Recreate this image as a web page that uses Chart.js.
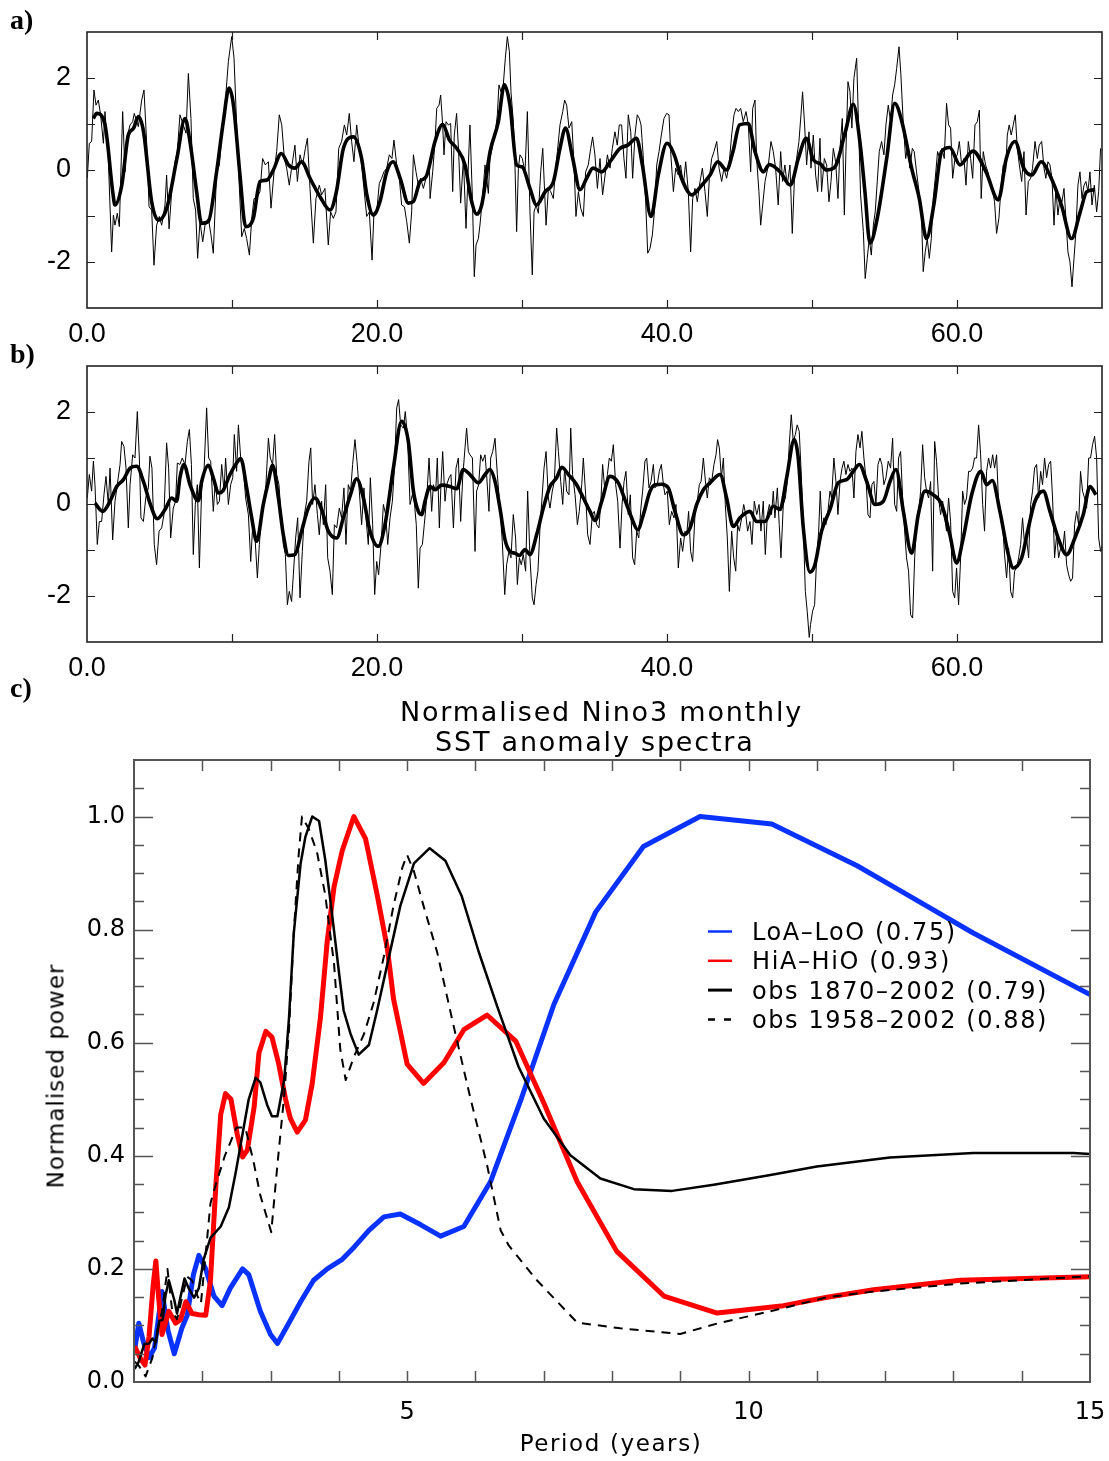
<!DOCTYPE html>
<html>
<head>
<meta charset="utf-8">
<title>Nino3 SST anomalies and spectra</title>
<script src="https://cdn.jsdelivr.net/npm/chart.js@4.4.1/dist/chart.umd.min.js"></script>
<style>
  body { margin: 0; background: #fff; }
  #page { position: relative; width: 1109px; height: 1461px; overflow: hidden; background: #fff; }
  canvas { position: absolute; left: 0; }
  .tag { position: absolute; left: 10px; font: bold 28px "Liberation Serif", serif; line-height: 28px; }
  .spec { position: absolute; font-family: "DejaVu Sans", sans-serif; white-space: pre; color: #000; }
  .ttl { font-size: 27px; line-height: 30px; letter-spacing: 1.8px; }
  .axt { font-size: 23px; line-height: 23px; letter-spacing: 1.6px; }
</style>
</head>
<body>
<div id="page">
  <canvas id="chartA" width="1109" height="345" style="top:0px"></canvas>
  <canvas id="chartB" width="1109" height="345" style="top:334px"></canvas>
  <canvas id="chartC" width="1109" height="781" style="top:680px"></canvas>
  <div class="tag" style="top:6px">a)</div>
  <div class="tag" style="top:340px">b)</div>
  <div class="tag" style="top:674px">c)</div>
  <div class="spec ttl" style="left:400px; top:697px">Normalised Nino3 monthly</div>
  <div class="spec ttl" style="left:435px; top:727px">SST anomaly spectra</div>
  <div class="spec axt" style="left:411px; width:400px; text-align:center; top:1432px">Period (years)</div>
  <div class="spec axt" style="left:56px; top:1076px; letter-spacing:1px; transform:translate(-50%,-50%) rotate(-90deg)">Normalised power</div>
</div>
<script>
'use strict';

// panel a) monthly anomaly (thin) and smoothed (thick), years from start
const aYears = [
  0.02,0.16,0.32,0.48,0.62,0.78,0.94,1.13,1.24,1.47,
  1.70,1.82,1.93,2.09,2.23,2.46,2.62,2.74,2.97,3.15,
  3.26,3.54,3.77,3.93,4.11,4.28,4.46,4.62,4.80,4.99,
  5.15,5.38,5.49,5.66,5.84,6.07,6.23,6.41,6.64,6.83,
  6.99,7.17,7.33,7.49,7.63,7.79,7.98,8.14,8.37,8.55,
  8.71,8.94,9.13,9.29,9.52,9.75,9.98,10.14,10.32,10.51,
  10.67,10.85,11.01,11.2,11.36,11.52,11.70,11.93,12.11,12.30,
  12.51,12.69,12.9,13.08,13.26,13.43,13.61,13.77,13.95,14.14,
  14.34,14.51,14.69,14.87,15.06,15.2,15.38,15.61,15.79,16.02,
  16.18,16.41,16.64,16.8,16.99,17.17,17.36,17.56,17.75,17.91,
  18.09,18.25,18.41,18.6,18.78,18.94,19.10,19.29,19.47,19.66,
  19.79,19.98,20.16,20.32,20.48,20.67,20.85,21.03,21.17,21.36,
  21.54,21.70,21.89,22.05,22.23,22.39,22.51,22.69,22.85,23.01,
  23.2,23.43,23.61,23.66,23.84,24.0,24.12,24.28,24.39,24.53,
  24.62,24.76,24.92,25.08,25.22,25.33,25.49,25.63,25.77,25.96,
  26.14,26.3,26.41,26.58,26.71,26.83,26.99,27.1,27.27,27.45,
  27.56,27.68,27.79,27.98,28.14,28.3,28.41,28.55,28.71,28.85,
  28.99,29.13,29.24,29.4,29.52,29.63,29.75,29.86,30.02,30.21,
  30.37,30.55,30.71,30.83,30.97,31.13,31.29,31.43,31.54,31.66,
  31.82,31.98,32.16,32.32,32.44,32.62,32.81,32.94,33.08,33.24,
  33.43,33.59,33.72,33.89,34.05,34.23,34.39,34.57,34.74,34.87,
  35.03,35.2,35.38,35.56,35.73,35.89,36.07,36.23,36.41,36.57,
  36.71,36.87,37.03,37.17,37.33,37.5,37.63,37.79,37.95,38.09,
  38.21,38.37,38.53,38.67,38.83,38.99,39.13,39.29,39.45,39.61,
  39.79,39.98,40.14,40.25,40.44,40.6,40.78,40.94,41.13,41.29,
  41.47,41.63,41.77,41.93,42.09,42.28,42.44,42.62,42.78,42.92,
  43.08,43.24,43.43,43.59,43.77,43.93,44.11,44.28,44.46,44.62,
  44.76,44.92,45.08,45.26,45.45,45.61,45.77,45.91,46.07,46.18,
  46.34,46.46,46.6,46.76,46.99,47.17,47.33,47.49,47.67,47.84,
  47.97,48.13,48.29,48.48,48.64,48.8,48.94,49.1,49.24,49.35,
  49.49,49.63,49.79,49.93,50.09,50.25,50.39,50.55,50.66,50.85,
  51.01,51.17,51.31,51.47,51.63,51.79,51.93,52.09,52.23,52.34,
  52.48,52.62,52.75,52.89,53.08,53.21,53.35,53.54,53.67,53.81,
  53.95,54.09,54.23,54.36,54.5,54.64,54.8,54.96,55.1,55.26,
  55.42,55.56,55.7,55.84,56.0,56.13,56.3,56.46,56.62,56.75,
  56.92,57.05,57.21,57.38,57.54,57.67,57.81,57.95,58.09,58.23,
  58.36,58.5,58.66,58.82,58.96,59.12,59.28,59.42,59.56,59.7,
  59.86,60.02,60.16,60.32,60.48,60.62,60.78,60.94,61.08,61.24,
  61.4,61.54,61.67,61.81,61.97,62.13,62.27,62.43,62.59,62.73,
  62.89,63.05,63.19,63.35,63.47,63.6,63.74,63.88,64.02,64.16,
  64.3,64.46,64.62,64.76,64.92,65.08,65.21,65.38,65.54,65.67,
  65.84,66.0,66.13,66.27,66.41,66.55,66.69,66.82,66.96,67.1,
  67.24,67.38,67.51,67.65,67.79,67.93,68.07,68.2,68.34,68.48,
  68.62,68.76,68.89,69.03,69.17,69.31,69.47,69.63,69.77,69.9
];
const aAnom = [
  -0.18,0.58,0.62,1.74,1.41,1.52,1.2,0.58,1.27,0.25,
  -1.78,-0.98,-1.2,-0.94,-1.23,1.27,-0.04,0.69,0.98,1.05,
  1.23,0.94,1.52,1.74,0.62,-0.8,-0.87,-2.07,-1.2,-1.01,
  -1.2,-0.76,-0.11,-1.28,-0.47,0.18,0.4,1.2,0.98,0.8,
  2.1,1.12,-0.62,-0.87,-1.92,-1.12,-1.56,-1.2,-1.05,-1.41,
  -1.81,-0.04,0.11,0.76,1.41,2.36,2.9,2.43,0.98,-0.4,
  -1.45,-1.27,-1.49,-1.85,-1.05,-0.62,-0.62,-0.47,0.25,0.11,
  0.18,-0.83,-0.04,0.4,1.2,0.98,0.25,0.04,-0.33,0.11,
  0.54,-0.25,0.33,0.11,0.47,0.69,-0.4,-1.59,-0.62,-0.33,
  -0.54,-0.4,-1.63,-0.91,-1.05,-0.91,0.47,0.62,0.98,0.76,
  1.23,0.62,0.18,0.98,0.47,0.11,-0.4,-1.01,-0.91,-1.96,
  -0.91,-0.91,-0.29,-0.18,-0.04,0.04,0.33,0.25,0.65,0.11,
  -0.18,-0.76,-0.8,-1.12,-1.59,-0.91,0.33,-0.04,-0.33,-0.18,
  -0.4,-0.11,0.14,-0.62,-0.04,0.62,1.34,1.41,1.63,0.98,
  0.33,1.05,0.98,1.01,-0.47,0.76,1.23,0.40,-0.72,0.25,
  -1.27,0.11,0.98,-0.62,-2.32,-1.63,-1.49,-1.2,-0.62,0.11,
  -0.18,-0.51,0.25,0.54,0.76,1.2,1.85,1.7,1.85,2.43,
  2.9,2.57,1.7,1.05,0.04,-1.34,0.04,0.33,0.25,-0.04,
  1.27,-0.91,-2.28,-0.91,-0.76,-0.94,-0.04,0.47,-0.33,-1.2,
  -0.4,-0.47,-0.62,0.04,0.40,0.98,1.27,1.52,1.41,0.91,
  1.05,0.11,-1.01,-0.47,-0.83,-1.01,-0.04,0.11,0.47,0.72,
  0.33,-0.4,0.25,-0.54,-0.11,0.33,0.04,0.47,0.83,0.54,
  0.98,0.98,0.25,-0.18,1.2,0.83,-0.18,0.76,1.2,1.12,
  0.98,0.25,-0.69,-1.81,-1.70,-1.41,-0.91,0.11,0.40,0.76,
  1.12,1.23,1.2,0.40,-0.47,0.04,-0.11,0.11,-0.33,0.18,
  -0.47,-1.78,-0.62,-0.40,-0.69,-0.25,0.04,-0.47,-1.01,-0.18,
  0.25,0.40,0.62,0.04,-0.25,0.04,-0.18,0.11,0.76,1.2,
  1.34,1.27,1.34,1.05,1.27,0.98,-0.04,1.34,1.52,0.25,
  -0.47,-1.2,-0.76,-0.25,0.11,0.62,0.40,0.04,-0.76,0.40,
  -0.25,0.11,-0.33,0.11,-1.38,-0.11,0.25,0.62,1.20,1.70,
  0.98,0.11,0.83,0.04,0.76,-0.11,-0.47,0.69,-0.47,0.25,
  0.11,-0.69,-0.25,0.47,0.18,-0.62,0.47,1.12,-0.98,0.40,
  1.92,1.70,0.91,1.99,2.43,0.98,-0.54,-1.34,-2.36,-1.92,
  -1.49,-1.85,-1.2,-0.91,-0.25,0.40,0.62,0.33,0.98,1.41,
  1.05,1.63,1.85,2.21,2.68,2.07,0.98,0.25,0.54,0.04,
  0.47,0.40,-0.04,-0.47,-0.91,-2.21,-1.78,-1.49,-1.92,-1.49,
  -0.62,-0.18,0.40,0.25,0.47,0.25,1.45,0.98,0.91,-0.18,
  0.25,0.33,0.62,0.11,0.25,-0.33,0.62,0.25,-0.18,0.98,
  1.05,1.30,-0.62,0.40,0.11,-0.04,-0.25,-0.40,-0.69,-1.38,
  -1.05,-0.33,0.11,-0.04,0.76,0.98,0.76,0.98,1.20,0.47,
  0.11,-0.25,0.40,-0.98,-0.25,-0.18,0.04,0.62,0.25,0.54,
  0.62,0.04,-0.18,0.18,0.11,-0.18,-1.2,-0.40,-0.98,-0.62,
  -0.69,-0.40,-1.05,-1.78,-2.0,-2.54,-1.92,-1.34,-0.33,-0.04,
  -0.62,-0.33,-0.25,-0.47,-0.04,-0.76,-0.33,-0.91,-0.47,0.47
];
const aSmYears = [
  0.44,0.67,1.24,1.80,1.93,2.40,2.85,3.20,3.54,3.90,
  4.46,4.92,5.50,6.20,6.76,7.10,7.56,7.90,8.37,8.94,
  9.40,9.80,10.10,10.55,10.94,11.47,11.93,12.40,12.85,13.40,
  13.90,14.34,14.80,15.38,16.07,16.76,17.20,17.68,18.37,18.94,
  19.30,19.75,20.20,20.67,21.10,21.60,22.16,22.50,22.97,23.40,
  24.00,24.53,25.00,25.50,26.07,26.53,26.87,27.22,27.80,28.37,
  28.78,29.17,29.63,30.00,30.55,31.00,31.60,32.17,32.62,33.00,
  33.50,34.00,34.46,34.90,35.50,36.07,36.76,37.30,37.90,38.30,
  38.90,39.40,40.00,40.50,41.00,41.70,42.40,42.97,43.50,44.10,
  44.55,45.00,45.60,46.07,46.65,47.05,47.80,48.50,49.06,49.60,
  50.10,50.55,51.00,51.59,52.30,52.85,53.30,53.65,54.00,54.50,
  55.15,55.70,56.20,56.87,57.40,57.90,58.40,58.94,59.50,60.20,
  61.10,62.00,62.85,63.40,64.00,64.60,65.15,65.80,66.40,67.20,
  67.90,68.50,68.95,69.50
];
const aSmooth = [
  1.12,1.23,0.98,-0.54,-0.76,-0.33,0.76,0.90,1.16,0.83,
  -0.69,-1.09,-0.83,0.25,1.12,0.62,-0.47,-1.16,-1.12,-0.04,
  1.05,1.78,1.41,-0.11,-1.23,-1.05,-0.25,-0.22,0.00,0.36,
  0.11,0.04,0.18,-0.18,-0.58,-0.87,-0.47,0.47,0.72,0.25,
  -0.54,-0.98,-0.69,-0.04,0.18,-0.18,-0.72,-0.69,-0.25,-0.14,
  0.62,0.99,0.65,0.47,0.11,-0.69,-0.96,-0.76,0.40,1.05,
  1.85,1.41,0.11,0.07,-0.40,-0.76,-0.47,-0.25,0.47,0.91,
  0.25,-0.43,-0.18,0.04,-0.04,0.18,0.47,0.54,0.69,0.11,
  -1.01,-0.11,0.58,0.33,-0.18,-0.54,-0.33,-0.11,0.18,0.00,
  0.40,0.98,1.01,0.40,-0.04,0.12,-0.04,-0.33,0.25,0.69,
  0.22,0.14,0.00,0.07,0.83,1.43,0.62,-0.47,-1.59,-1.05,
  0.25,1.45,1.05,0.04,-0.62,-1.49,-0.76,0.40,0.49,0.11,
  0.41,-0.04,-0.65,0.25,0.62,0.04,-0.11,0.18,-0.11,-0.76,
  -1.49,-0.91,-0.47,-0.43
];

// panel b)
const bYears = [
  0.02,0.16,0.32,0.44,0.55,0.71,0.85,1.01,1.17,1.31,
  1.47,1.59,1.77,1.93,2.09,2.28,2.39,2.55,2.69,2.85,
  2.97,3.15,3.31,3.47,3.61,3.72,3.89,4.05,4.23,4.34,
  4.48,4.64,4.8,4.97,5.15,5.31,5.49,5.63,5.77,5.95,
  6.11,6.23,6.41,6.57,6.76,6.92,7.06,7.2,7.33,7.47,
  7.61,7.75,7.91,8.07,8.25,8.39,8.53,8.71,8.85,8.99,
  9.13,9.29,9.45,9.56,9.75,9.91,10.05,10.16,10.32,10.44,
  10.6,10.78,10.94,11.13,11.29,11.43,11.59,11.75,11.89,12.05,
  12.21,12.34,12.51,12.64,12.8,12.94,13.08,13.24,13.38,13.54,
  13.68,13.82,13.95,14.11,14.23,14.39,14.53,14.69,14.85,14.99,
  15.15,15.31,15.43,15.56,15.72,15.89,16.02,16.18,16.3,16.46,
  16.6,16.76,16.92,17.06,17.22,17.4,17.56,17.72,17.86,18.02,
  18.18,18.32,18.48,18.62,18.78,18.94,19.1,19.24,19.4,19.54,
  19.7,19.84,19.98,20.11,20.28,20.44,20.6,20.74,20.9,21.06,
  21.2,21.36,21.49,21.63,21.82,21.95,22.11,22.28,22.44,22.57,
  22.71,22.85,22.97,23.13,23.26,23.43,23.59,23.77,23.89,24.05,
  24.16,24.3,24.41,24.53,24.69,24.81,24.97,25.1,25.27,25.45,
  25.61,25.77,25.91,26.07,26.18,26.3,26.41,26.58,26.76,26.87,
  27.01,27.15,27.29,27.45,27.56,27.72,27.84,27.98,28.14,28.3,
  28.48,28.64,28.81,28.94,29.1,29.24,29.4,29.56,29.68,29.82,
  29.95,30.09,30.25,30.39,30.55,30.71,30.83,30.97,31.1,31.24,
  31.38,31.52,31.66,31.82,31.93,32.09,32.23,32.39,32.51,32.67,
  32.81,32.94,33.08,33.24,33.36,33.49,33.66,33.82,33.95,34.12,
  34.23,34.39,34.53,34.69,34.85,34.99,35.15,35.31,35.45,35.56,
  35.72,35.89,36.02,36.16,36.3,36.46,36.6,36.76,36.9,37.04,
  37.17,37.33,37.47,37.63,37.77,37.91,38.05,38.2,38.32,38.48,
  38.6,38.76,38.9,39.06,39.17,39.33,39.47,39.61,39.75,39.86,
  40.02,40.16,40.32,40.48,40.62,40.78,40.94,41.08,41.24,41.36,
  41.49,41.63,41.77,41.93,42.09,42.23,42.35,42.51,42.67,42.78,
  42.92,43.08,43.24,43.38,43.49,43.61,43.75,43.89,44.02,44.16,
  44.3,44.46,44.6,44.74,44.87,44.99,45.15,45.29,45.43,45.56,
  45.72,45.86,46.02,46.19,46.35,46.48,46.64,46.78,46.92,47.06,
  47.21,47.33,47.44,47.61,47.74,47.86,48.02,48.16,48.3,48.43,
  48.57,48.71,48.85,48.98,49.12,49.26,49.4,49.54,49.67,49.81,
  49.9,50.04,50.18,50.32,50.46,50.57,50.69,50.82,50.96,51.1,
  51.24,51.35,51.51,51.65,51.79,51.93,52.07,52.2,52.34,52.48,
  52.62,52.76,52.89,53.03,53.17,53.31,53.44,53.58,53.72,53.86,
  54.0,54.13,54.27,54.41,54.55,54.69,54.82,54.96,55.1,55.26,
  55.42,55.56,55.7,55.84,55.97,56.11,56.25,56.39,56.52,56.66,
  56.8,56.94,57.08,57.21,57.35,57.49,57.63,57.77,57.9,58.04,
  58.18,58.32,58.46,58.59,58.73,58.87,59.01,59.15,59.28,59.42,
  59.56,59.7,59.84,59.97,60.11,60.25,60.39,60.52,60.66,60.8,
  60.94,61.08,61.21,61.35,61.49,61.63,61.77,61.9,62.04,62.18,
  62.32,62.46,62.59,62.73,62.87,63.01,63.15,63.28,63.42,63.56,
  63.7,63.84,63.97,64.11,64.25,64.39,64.52,64.66,64.8,64.94,
  65.08,65.21,65.35,65.49,65.63,65.77,65.9,66.04,66.18,66.32,
  66.46,66.59,66.73,66.87,67.01,67.15,67.28,67.42,67.56,67.7,
  67.84,67.97,68.11,68.25,68.39,68.52,68.66,68.8,68.94,69.08,
  69.21,69.35,69.49,69.63,69.77,69.9,70.0
];
const bAnom = [
  0.13,0.64,0.28,0.93,0.42,-0.88,-0.38,-0.38,0.20,0.60,
  -0.01,0.78,-0.78,0.06,0.42,0.86,1.36,1.25,0.78,-0.52,
  0.42,1.07,1.0,2.01,1.0,-0.30,-0.38,0.13,0.35,1.04,
  0.78,-0.88,-1.32,-0.59,-0.52,-0.23,1.33,0.78,-0.74,-0.09,
  0.06,0.89,0.86,1.0,0.86,1.36,1.62,0.86,-1.10,-0.01,
  0.42,-1.39,0.35,0.71,2.09,1.0,0.93,-0.16,0.49,-0.01,
  0.06,0.86,0.28,1.0,-0.01,0.42,0.57,1.51,0.71,1.72,
  1.0,0.78,0.13,-0.23,-1.25,-0.45,-0.74,-1.61,-0.88,-0.09,
  -0.01,0.42,1.43,1.0,0.86,1.51,0.64,0.42,-0.23,-0.88,
  -1.10,-2.19,-1.90,-2.12,-1.54,-0.74,-0.30,-2.04,-1.03,-0.23,
  0.06,0.93,1.22,-0.01,0.42,-0.23,-0.67,0.06,-0.45,0.42,
  -1.17,-1.46,-1.97,-0.45,-0.52,-0.09,-0.30,0.35,-0.88,0.42,
  0.28,0.86,1.40,0.93,0.28,-0.45,0.35,-0.30,-0.88,0.57,
  -0.45,-1.97,-1.25,-1.54,-0.88,-0.01,-0.23,-0.88,-0.30,0.06,
  0.78,2.09,2.27,1.72,1.65,2.01,1.43,-0.01,0.20,0.06,
  -0.45,-1.83,-0.96,-0.88,-0.45,0.13,1.0,-0.16,0.42,0.28,
  1.0,-0.52,0.42,1.14,0.06,0.42,0.57,0.64,-0.52,0.78,
  1.0,-0.38,0.57,1.22,1.65,1.14,1.07,1.0,-1.03,0.28,
  0.42,1.07,0.93,1.07,0.64,-0.16,1.0,1.14,1.43,0.64,
  -0.09,-0.81,-1.97,-1.32,-1.03,-1.17,-0.23,-0.74,-1.75,-1.17,
  -1.32,-1.10,-1.46,0.28,-1.17,-2.04,-2.19,-1.75,-1.46,-0.52,
  0.13,0.78,1.14,0.13,-0.09,0.28,0.49,1.65,1.14,0.49,
  -0.01,0.78,0.28,0.20,1.65,0.64,0.20,-0.45,-0.16,0.42,
  1.0,0.20,-0.67,-0.88,-0.23,-0.16,-0.45,-0.52,0.13,0.86,
  0.28,0.64,1.0,0.93,1.29,0.42,0.06,-0.96,-0.01,0.49,
  0.71,-0.23,0.20,-1.17,-1.32,-0.59,-0.74,-0.09,0.28,0.93,
  1.0,0.35,0.49,0.86,0.35,0.42,0.71,0.86,0.42,0.20,
  0.28,-0.45,-0.16,-0.30,-0.01,-1.39,-0.74,-1.03,-0.59,-0.67,
  -0.16,-1.03,-1.25,-0.23,0.06,0.42,0.49,1.0,0.42,0.13,
  0.57,0.49,0.86,1.07,1.40,1.22,0.57,1.0,-0.01,-0.74,
  -1.90,-0.59,-1.17,-1.46,-0.45,-0.59,-0.30,-0.01,-0.23,-0.59,
  -0.38,-0.88,0.06,-0.23,-0.01,-0.59,0.06,-1.10,-0.23,-0.01,
  -0.23,0.28,-0.30,0.35,-0.45,-1.17,-0.01,0.13,0.49,1.29,
  1.94,1.36,1.51,1.72,1.58,0.64,-0.52,-1.90,-2.33,-2.9,
  -2.62,-2.33,-2.19,-1.17,-0.59,0.28,-0.52,-0.30,-0.45,-0.16,
  0.28,0.13,1.0,0.49,-0.23,0.49,0.78,0.93,0.64,0.86,
  0.71,0.78,0.13,1.14,1.51,1.22,1.58,1.0,0.57,-0.23,
  -0.30,0.42,0.49,-0.01,0.86,1.0,0.86,0.42,0.57,0.93,
  0.78,1.43,-0.01,-0.16,1.0,1.14,0.13,-0.59,-1.17,-1.46,
  -2.41,-2.48,-1.17,-0.45,-0.23,0.28,1.29,0.57,0.28,0.13,
  0.49,-1.46,1.36,0.93,0.13,-0.23,0.06,-0.30,-0.59,0.13,
  -0.38,-1.90,-2.04,-1.39,-2.19,-1.17,0.28,-0.01,0.13,0.71,
  0.71,0.78,1.0,1.0,1.72,1.07,-0.01,-0.59,0.71,1.0,
  0.78,1.07,0.78,1.07,-0.01,-0.23,-0.45,-1.10,-1.61,-0.96,
  -1.90,-2.04,-1.46,-1.39,-1.17,-0.88,-0.30,-0.88,-0.74,-1.17,
  -0.01,0.28,0.78,0.86,0.13,0.71,0.42,1.0,0.57,0.86,
  0.93,0.13,-1.17,-0.67,-1.17,-0.96,-1.03,-0.59,-1.32,-1.54,
  -1.68,-1.61,-0.45,-0.16,-0.45,0.71,0.28,0.13,-0.09,1.0,
  1.0,1.29,1.47,1.0,-0.74,-1.03,-0.9
];
const bSmYears = [
  0.55,1.08,1.59,2.05,2.51,2.97,3.43,3.89,4.34,4.85,
  5.38,5.84,6.18,6.41,6.69,7.10,7.68,7.91,8.37,8.71,
  9.06,9.36,9.86,10.32,10.60,11.01,11.36,11.70,12.16,12.51,
  12.80,13.20,13.54,13.89,14.34,14.80,15.26,15.72,16.18,16.64,
  17.22,17.68,18.14,18.60,19.06,19.52,20.09,20.55,21.13,21.70,
  22.16,22.51,22.85,23.08,23.31,23.66,24.00,24.46,25.04,25.50,
  25.95,26.41,26.99,27.45,27.79,28.14,28.48,28.83,29.17,29.52,
  29.82,30.21,30.55,31.01,31.47,31.93,32.39,32.74,33.20,33.77,
  34.23,34.69,35.04,35.50,36.07,36.64,37.10,37.56,37.98,38.37,
  38.83,39.17,39.63,40.09,40.55,41.13,41.59,42.05,42.51,42.97,
  43.66,44.11,44.57,45.03,45.72,46.18,46.76,47.33,47.79,48.25,
  48.78,49.05,49.40,49.86,50.20,50.66,51.24,51.81,52.39,52.85,
  53.26,53.77,54.34,54.92,55.38,55.79,56.30,56.87,57.33,57.79,
  58.36,58.94,59.51,59.97,60.43,61.01,61.65,62.04,62.43,62.96,
  63.54,63.88,64.46,64.92,65.38,65.95,66.41,66.98,67.56,68.13,
  68.71,69.17,69.58
];
const bSmooth = [
  0.02,-0.16,0.06,0.38,0.53,0.78,0.82,0.49,0.02,-0.32,
  -0.12,0.13,0.06,0.57,0.86,0.42,0.07,0.49,0.84,0.57,
  0.24,0.28,0.64,0.89,0.99,0.35,-0.30,-0.81,-0.01,0.49,
  0.84,0.13,-0.67,-1.12,-1.10,-0.59,-0.09,0.13,-0.12,-0.59,
  -0.74,-0.30,0.17,0.55,0.13,-0.59,-0.92,-0.45,0.78,1.80,
  1.36,0.28,-0.16,-0.23,0.06,0.38,0.31,0.41,0.38,0.33,
  0.75,0.64,0.46,0.64,0.75,0.49,-0.09,-0.78,-1.03,-1.07,
  -1.12,-0.99,-1.10,-0.67,-0.09,0.38,0.57,0.80,0.64,0.42,
  0.13,-0.16,-0.36,0.06,0.60,0.46,0.09,-0.30,-0.56,-0.23,
  0.28,0.42,0.43,0.35,-0.16,-0.67,-0.52,-0.01,0.31,0.46,
  0.64,0.13,-0.49,-0.30,-0.16,-0.38,-0.38,-0.05,-0.12,0.57,
  1.40,1.00,-0.52,-1.48,-1.32,-0.59,-0.12,0.46,0.53,0.71,
  0.86,0.49,-0.01,0.06,0.49,0.75,-0.16,-1.07,-0.23,0.28,
  0.20,-0.01,-0.67,-1.28,-0.74,0.20,0.71,0.42,0.51,-0.16,
  -1.10,-1.39,-1.17,-0.52,0.06,0.28,-0.16,-0.74,-1.10,-0.74,
  -0.23,0.38,0.20
];

// panel c) normalised spectra, period in years
const loaPeriod = [1.01,1.07,1.14,1.22,1.30,1.41,1.50,1.59,1.70,1.78,1.87,1.95,2.05,2.17,2.29,2.41,2.59,2.68,2.85,3.00,3.10,3.24,3.44,3.63,3.83,4.05,4.22,4.44,4.66,4.90,5.20,5.49,5.83,6.22,6.66,7.15,7.76,8.46,9.29,10.34,11.59,12.22,13.29,15.00];
const loaPower = [0.057,0.104,0.070,0.043,0.060,0.160,0.090,0.050,0.095,0.118,0.190,0.224,0.200,0.152,0.135,0.166,0.200,0.190,0.125,0.084,0.068,0.098,0.142,0.180,0.200,0.217,0.238,0.268,0.292,0.297,0.278,0.258,0.275,0.354,0.497,0.668,0.831,0.947,1.000,0.987,0.913,0.869,0.794,0.685];
const hiaPeriod = [1.01,1.10,1.16,1.22,1.28,1.32,1.36,1.41,1.51,1.61,1.68,1.76,1.85,1.95,2.05,2.12,2.20,2.27,2.34,2.42,2.51,2.59,2.66,2.76,2.83,2.93,3.02,3.12,3.22,3.29,3.39,3.51,3.61,3.73,3.83,3.93,4.05,4.22,4.39,4.56,4.71,4.80,5.00,5.24,5.54,5.83,6.17,6.59,7.00,7.49,8.07,8.76,9.54,10.51,11.15,11.83,13.10,15.00];
const hiaPower = [0.063,0.040,0.030,0.080,0.170,0.214,0.150,0.084,0.125,0.104,0.110,0.142,0.121,0.119,0.118,0.180,0.350,0.473,0.510,0.500,0.439,0.398,0.410,0.487,0.582,0.620,0.610,0.562,0.500,0.466,0.442,0.463,0.528,0.644,0.780,0.876,0.940,1.000,0.961,0.862,0.767,0.678,0.562,0.528,0.565,0.623,0.649,0.603,0.494,0.354,0.231,0.152,0.122,0.135,0.150,0.163,0.180,0.186];
const obsPeriod = [1.01,1.07,1.15,1.22,1.27,1.32,1.37,1.42,1.46,1.51,1.59,1.63,1.68,1.74,1.80,1.88,1.95,2.02,2.12,2.27,2.39,2.49,2.59,2.68,2.78,2.85,2.95,3.02,3.10,3.20,3.27,3.34,3.44,3.51,3.61,3.71,3.80,3.90,4.00,4.07,4.17,4.29,4.44,4.56,4.71,4.90,5.10,5.33,5.56,5.80,6.05,6.32,6.63,7.00,7.39,7.83,8.32,8.88,9.49,10.32,11.00,12.07,13.29,14.76,15.00];
const obsPower = [0.023,0.036,0.067,0.068,0.077,0.070,0.108,0.110,0.152,0.180,0.145,0.121,0.150,0.183,0.166,0.149,0.166,0.217,0.255,0.275,0.309,0.371,0.439,0.500,0.538,0.530,0.490,0.470,0.470,0.535,0.644,0.794,0.917,0.964,1.000,0.992,0.924,0.828,0.726,0.657,0.616,0.579,0.596,0.657,0.739,0.842,0.917,0.944,0.922,0.859,0.760,0.664,0.558,0.466,0.401,0.360,0.341,0.338,0.349,0.366,0.381,0.397,0.405,0.405,0.403];
const obs58Period = [1.01,1.07,1.17,1.27,1.34,1.41,1.49,1.56,1.63,1.71,1.78,1.85,1.93,1.98,2.05,2.12,2.20,2.33,2.50,2.63,2.75,2.85,3.01,3.10,3.20,3.27,3.34,3.41,3.46,3.56,3.68,3.80,3.93,4.02,4.10,4.22,4.37,4.51,4.66,4.80,4.93,5.00,5.10,5.24,5.44,5.68,5.93,6.17,6.37,6.49,6.90,7.49,8.12,9.00,9.59,10.32,11.15,11.83,13.10,15.00];
const obs58Power = [0.036,0.029,0.010,0.043,0.091,0.125,0.200,0.125,0.111,0.152,0.186,0.180,0.152,0.139,0.227,0.316,0.350,0.400,0.450,0.450,0.390,0.330,0.265,0.384,0.507,0.623,0.794,0.930,1.000,0.978,0.937,0.862,0.739,0.589,0.534,0.575,0.616,0.671,0.753,0.842,0.910,0.932,0.903,0.842,0.760,0.630,0.500,0.384,0.268,0.241,0.180,0.105,0.095,0.085,0.105,0.125,0.150,0.160,0.174,0.187];
const seriesLabels = ['LoA\u2013LoO (0.75)', 'HiA\u2013HiO (0.93)', 'obs 1870\u20132002 (0.79)', 'obs 1958\u20132002 (0.88)'];

// tick labels
const tsYearLabels = [0, 20, 40, 60];
const tsValueLabels = [-2, 0, 2];
const specPeriodLabels = [5, 10, 15];

const tsFont = '"Liberation Sans", Arial, sans-serif';
const specFont = '"DejaVu Sans", sans-serif';

function pts(xs, ys) {
  return xs.map((x, i) => ({x: x, y: ys[i]}));
}

// stop edge labels from pushing the plot area in
function noEdgePad(s) {
  s.paddingLeft = 0; s.paddingRight = 0;
  s.paddingTop = 0; s.paddingBottom = 0;
}

// box round the plot area plus inward tick marks taken from the scales' ticks
function frameTicks(cfg) {
  return {
    id: 'frameTicks',
    afterDatasetsDraw(chart) {
      const {ctx, chartArea: a} = chart;
      const xs = chart.scales.x, ys = chart.scales.y;
      ctx.save();
      ctx.strokeStyle = cfg.color;
      ctx.lineWidth = cfg.tickWidth;
      ctx.beginPath();
      xs.ticks.forEach(t => {
        if (t.value <= xs.min || t.value >= xs.max) return;
        const px = Math.round(xs.getPixelForValue(t.value)) + 0.5;
        const len = cfg.xLen(t.value);
        ctx.moveTo(px, a.bottom); ctx.lineTo(px, a.bottom - len);
        if (cfg.top) { ctx.moveTo(px, a.top); ctx.lineTo(px, a.top + len); }
      });
      ys.ticks.forEach(t => {
        if (t.value <= ys.min + 1e-9 || t.value >= ys.max - 1e-9) return;
        const py = Math.round(ys.getPixelForValue(t.value)) + 0.5;
        const len = cfg.yLen(t.value);
        ctx.moveTo(a.left, py); ctx.lineTo(a.left + len, py);
        ctx.moveTo(a.right, py); ctx.lineTo(a.right - len, py);
      });
      ctx.stroke();
      ctx.lineWidth = cfg.frameWidth;
      ctx.strokeRect(a.left, a.top, a.right - a.left, a.bottom - a.top);
      ctx.restore();
    }
  };
}

function seriesChart(id, thinX, thinY, smX, smY) {
  return new Chart(document.getElementById(id), {
    type: 'scatter',
    data: {
      datasets: [{
        data: pts(smX, smY),
        showLine: true,
        borderColor: '#000',
        borderWidth: 3.6,
        pointRadius: 0,
        cubicInterpolationMode: 'monotone',
        order: 0,
      }, {
        data: pts(thinX, thinY),
        showLine: true,
        borderColor: '#000',
        borderWidth: 1,
        pointRadius: 0,
        order: 1,
      }]
    },
    options: {
      responsive: false,
      animation: false,
      devicePixelRatio: 1,
      events: [],
      layout: {padding: {top: 32, right: 7, left: 0, bottom: 0}},
      plugins: {legend: {display: false}, tooltip: {enabled: false}},
      scales: {
        x: {
          type: 'linear', min: 0, max: 70,
          grid: {display: false, drawTicks: false},
          border: {display: false},
          ticks: {
            stepSize: 10, autoSkip: false, maxRotation: 0, padding: 10,
            color: '#000', font: {family: tsFont, size: 27},
            callback: v => tsYearLabels.includes(v) ? v.toFixed(1) : '',
          },
          afterFit: s => { s.height = 37; noEdgePad(s); },
        },
        y: {
          type: 'linear', min: -3, max: 3,
          grid: {display: false, drawTicks: false},
          border: {display: false},
          ticks: {
            stepSize: 1, autoSkip: false, padding: 16,
            color: '#000', font: {family: tsFont, size: 27},
            callback: v => tsValueLabels.includes(v) ? String(v) : '',
          },
          afterFit: s => { s.width = 87; noEdgePad(s); },
        }
      }
    },
    plugins: [frameTicks({color: '#222', tickWidth: 1.2, frameWidth: 1.6, top: true, xLen: () => 8, yLen: () => 8})]
  });
}

seriesChart('chartA', aYears, aAnom, aSmYears, aSmooth);
seriesChart('chartB', bYears, bAnom, bSmYears, bSmooth);

const isMajor = v => Math.abs(v * 5 - Math.round(v * 5)) < 1e-6;

// legend drawn from the datasets inside the plot
const innerLegend = {
  id: 'innerLegend',
  afterDraw(chart) {
    const ctx = chart.ctx;
    ctx.save();
    ctx.font = '24px ' + specFont;
    ctx.letterSpacing = '1.6px';
    ctx.fillStyle = '#000';
    ctx.textBaseline = 'alphabetic';
    chart.data.datasets.forEach((ds, i) => {
      const base = 260 + i * 29.3;
      ctx.strokeStyle = ds.borderColor;
      ctx.lineWidth = ds.legendWidth;
      ctx.setLineDash(ds.legendDash || []);
      ctx.beginPath();
      ctx.moveTo(708, base - 8.5);
      ctx.lineTo(732, base - 8.5);
      ctx.stroke();
      ctx.fillText(ds.label, 752, base);
    });
    ctx.restore();
  }
};

new Chart(document.getElementById('chartC'), {
  type: 'scatter',
  data: {
    datasets: [{
      label: seriesLabels[0], data: pts(loaPeriod, loaPower),
      borderColor: '#0a32ff', borderWidth: 5, legendWidth: 2.5, order: 3,
    }, {
      label: seriesLabels[1], data: pts(hiaPeriod, hiaPower),
      borderColor: '#ff0000', borderWidth: 5, legendWidth: 2.5, order: 2,
    }, {
      label: seriesLabels[2], data: pts(obsPeriod, obsPower),
      borderColor: '#000', borderWidth: 2.5, legendWidth: 3, order: 0,
    }, {
      label: seriesLabels[3], data: pts(obs58Period, obs58Power),
      borderColor: '#000', borderWidth: 2, borderDash: [9, 7],
      legendWidth: 2.5, legendDash: [7, 9], order: 1,
    }].map(ds => Object.assign({showLine: true, pointRadius: 0, borderJoinStyle: 'round'}, ds))
  },
  options: {
    responsive: false,
    animation: false,
    devicePixelRatio: 1,
    events: [],
    layout: {padding: {top: 80, right: 19, left: 0, bottom: 0}},
    plugins: {legend: {display: false}, tooltip: {enabled: false}},
    scales: {
      x: {
        type: 'linear', min: 1, max: 15,
        grid: {display: false, drawTicks: false},
        border: {display: false},
        ticks: {
          stepSize: 1, autoSkip: false, maxRotation: 0, padding: 16,
          color: '#000', font: {family: specFont, size: 24},
          callback: v => specPeriodLabels.includes(v) ? String(v) : '',
        },
        afterFit: s => { s.height = 79; noEdgePad(s); },
      },
      y: {
        type: 'linear', min: 0, max: 1.1,
        grid: {display: false, drawTicks: false},
        border: {display: false},
        ticks: {
          stepSize: 0.05, autoSkip: false, padding: 9,
          color: '#000', font: {family: specFont, size: 24},
          callback: v => isMajor(v) ? v.toFixed(1) : '',
        },
        afterFit: s => { s.width = 134; noEdgePad(s); },
      }
    }
  },
  plugins: [
    frameTicks({color: '#555', tickWidth: 1.5, frameWidth: 2, top: true,
      xLen: () => 11, yLen: v => isMajor(v) ? 19 : 10}),
    innerLegend
  ]
});
</script>
</body>
</html>
